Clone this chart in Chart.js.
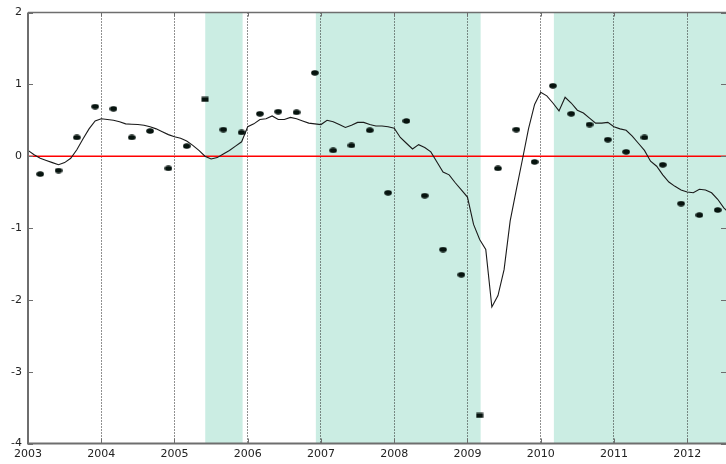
<!DOCTYPE html>
<html>
<head>
<meta charset="utf-8">
<script src="https://cdn.jsdelivr.net/npm/chart.js@4/dist/chart.umd.min.js"></script>
<style>
  html, body { margin: 0; padding: 0; background: #ffffff; }
  #wrap { width: 726px; height: 464px; position: relative; }
</style>
</head>
<body>
<div id="wrap"><canvas id="c" width="726" height="464"></canvas></div>
<script>
// Axis ranges and tick labels
const xTicks = [2003, 2004, 2005, 2006, 2007, 2008, 2009, 2010, 2011, 2012];
const yTicks = [-4, -3, -2, -1, 0, 1, 2];
const xMin = 2003, xMax = 2012.53;

// Shaded periods (decimal years)
const shadeStart = [2005.42, 2006.93, 2010.18];
const shadeEnd   = [2005.93, 2009.18, 2012.6];

// Reference level
const zeroLevel = 0;

// Monthly smoothed series, starting January 2003
const monthlyStartYear = 2003;
const monthlyValues = [
  0.08, 0.02, -0.03, -0.06, -0.09, -0.12, -0.09, -0.03, 0.09, 0.24, 0.38, 0.49,
  0.52, 0.51, 0.50, 0.48, 0.45, 0.445, 0.44, 0.43, 0.41, 0.38, 0.34, 0.30,
  0.27, 0.25, 0.21, 0.15, 0.08, 0.00, -0.04, -0.02, 0.03, 0.08, 0.14, 0.20,
  0.41, 0.45, 0.51, 0.52, 0.56, 0.51, 0.51, 0.54, 0.52, 0.49, 0.46, 0.45,
  0.44, 0.50, 0.48, 0.44, 0.40, 0.43, 0.47, 0.47, 0.44, 0.42, 0.42, 0.41,
  0.39, 0.26, 0.18, 0.10, 0.16, 0.12, 0.06, -0.08, -0.22, -0.26, -0.37, -0.47,
  -0.57, -0.95, -1.16, -1.30, -2.10, -1.94, -1.58, -0.90, -0.47, -0.05, 0.38, 0.72,
  0.89, 0.84, 0.74, 0.63, 0.82, 0.74, 0.64, 0.60, 0.53, 0.46, 0.46, 0.47,
  0.41, 0.38, 0.36, 0.28, 0.18, 0.08, -0.07, -0.14, -0.26, -0.36, -0.42, -0.47,
  -0.50, -0.51, -0.46, -0.47, -0.51, -0.60, -0.72, -0.80
];

// Quarterly observations, first one in March 2003
const quarterlyStartYear = 2003 + 2 / 12;
const quarterlyValues = [
  -0.25, -0.20, 0.26, 0.69, 0.66, 0.26, 0.35, -0.17, 0.14, 0.79,
  0.37, 0.33, 0.59, 0.62, 0.61, 1.16, 0.08, 0.15, 0.36, -0.51,
  0.49, -0.55, -1.30, -1.65, -3.61, -0.17, 0.37, -0.08, 0.98, 0.59,
  0.44, 0.23, 0.06, 0.26, -0.12, -0.66, -0.82, -0.75
];
// Observations drawn with a square marker
const squareMarkers = [9, 24];

const monthlyPoints = monthlyValues.map((v, i) => ({ x: monthlyStartYear + i / 12, y: v }));
const quarterlyPoints = quarterlyValues.map((v, i) => ({ x: quarterlyStartYear + i / 4, y: v }));

// Marker images: a flat dot and a small square
function makeMarker(kind) {
  const c = document.createElement('canvas');
  c.width = 8; c.height = 6;
  const g = c.getContext('2d');
  g.fillStyle = '#06130e';
  if (kind === 'ellipse') {
    g.beginPath();
    g.ellipse(4, 3, 3.8, 2.8, 0, 0, Math.PI * 2);
    g.fill();
  } else {
    g.fillRect(0.5, 0.5, 7, 5);
  }
  return c;
}
const dotImg = makeMarker('ellipse');
const squareImg = makeMarker('square');
const pointStyles = quarterlyValues.map((v, i) => squareMarkers.includes(i) ? squareImg : dotImg);

// Shaded bands behind everything
const shadePlugin = {
  id: 'shade',
  beforeDraw(chart) {
    const { ctx, chartArea: a, scales: { x } } = chart;
    ctx.save();
    ctx.fillStyle = 'rgb(203,237,227)';
    for (let i = 0; i < shadeStart.length; i++) {
      const l = Math.max(a.left, x.getPixelForValue(shadeStart[i]));
      const r = Math.min(a.right, x.getPixelForValue(shadeEnd[i]));
      if (r > l) ctx.fillRect(l, a.top, r - l, a.bottom - a.top);
    }
    ctx.restore();
  }
};

// Frame and inward tick marks
const framePlugin = {
  id: 'frame',
  afterDraw(chart) {
    const { ctx, chartArea: a, scales: { x, y } } = chart;
    ctx.save();
    ctx.strokeStyle = '#6e6e6e';
    ctx.lineWidth = 1;
    yTicks.forEach(v => {
      const py = Math.round(y.getPixelForValue(v)) + 0.5;
      ctx.beginPath();
      ctx.moveTo(a.left, py); ctx.lineTo(a.left + 5, py);
      ctx.moveTo(a.right, py); ctx.lineTo(a.right - 5, py);
      ctx.stroke();
    });
    xTicks.forEach(v => {
      const px = Math.round(x.getPixelForValue(v)) + 0.5;
      ctx.beginPath();
      ctx.moveTo(px, a.bottom); ctx.lineTo(px, a.bottom - 5);
      ctx.moveTo(px, a.top); ctx.lineTo(px, a.top + 4);
      ctx.stroke();
    });
    ctx.lineWidth = 1.5;
    ctx.beginPath();
    ctx.moveTo(a.left, a.top); ctx.lineTo(a.right, a.top);
    ctx.stroke();
    ctx.lineWidth = 2;
    ctx.beginPath();
    ctx.moveTo(a.left, a.top); ctx.lineTo(a.left, a.bottom); ctx.lineTo(a.right, a.bottom);
    ctx.stroke();
    ctx.restore();
  }
};

new Chart(document.getElementById('c'), {
  type: 'scatter',
  data: {
    datasets: [
      {
        type: 'line',
        data: [{ x: xMin, y: zeroLevel }, { x: xMax, y: zeroLevel }],
        borderColor: '#ff0000',
        borderWidth: 1.5,
        pointRadius: 0,
        order: 3
      },
      {
        type: 'line',
        data: monthlyPoints,
        borderColor: '#1a1a1a',
        borderWidth: 1.1,
        pointRadius: 0,
        tension: 0,
        order: 2
      },
      {
        type: 'scatter',
        data: quarterlyPoints,
        pointStyle: pointStyles,
        pointRadius: 4,
        order: 1
      }
    ]
  },
  options: {
    responsive: false,
    animation: false,
    events: [],
    layout: { autoPadding: false, padding: { top: 12.5, right: 0, left: 0, bottom: 0 } },
    plugins: { legend: { display: false }, tooltip: { enabled: false } },
    scales: {
      x: {
        type: 'linear',
        min: xMin,
        max: xMax,
        afterBuildTicks(scale) { scale.ticks = xTicks.map(v => ({ value: v })); },
        afterFit(scale) {
          scale.height = 20.5;
          scale.paddingLeft = 0;
          scale.paddingRight = 0;
        },
        grid: { display: true, color: '#222', lineWidth: 1, drawTicks: false },
        border: { display: false, dash: [1, 2] },
        ticks: {
          padding: 4,
          maxRotation: 0,
          autoSkip: false,
          color: '#222',
          font: { family: 'DejaVu Sans', size: 11 },
          callback: v => String(v)
        }
      },
      y: {
        min: -4,
        max: 2,
        afterBuildTicks(scale) { scale.ticks = yTicks.map(v => ({ value: v })); },
        afterFit(scale) {
          scale.width = 28;
          scale.paddingTop = 0;
          scale.paddingBottom = 0;
        },
        grid: { display: false, drawTicks: false },
        border: { display: false },
        ticks: {
          padding: 6,
          color: '#222',
          font: { family: 'DejaVu Sans', size: 11 },
          callback: v => String(v)
        }
      }
    }
  },
  plugins: [shadePlugin, framePlugin]
});
</script>
</body>
</html>
